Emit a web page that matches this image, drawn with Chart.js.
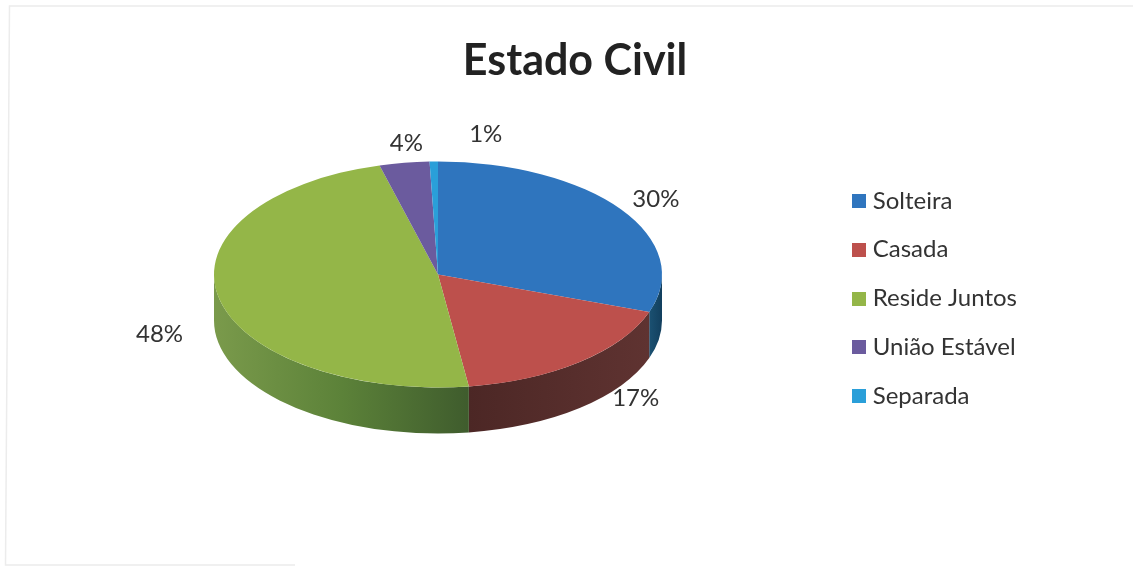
<!DOCTYPE html>
<html>
<head>
<meta charset="utf-8">
<title>Estado Civil</title>
<script src="https://cdn.jsdelivr.net/npm/chart.js@4"></script>
<style>
  html, body { margin: 0; padding: 0; background: #fff; }
  #wrap { position: relative; width: 1133px; height: 568px; }
  canvas { filter: blur(0.45px); }
</style>
</head>
<body>
<div id="wrap"><canvas id="pieChart"></canvas></div>
<script>
const categories = ["Solteira", "Casada", "Reside Juntos", "União Estável", "Separada"];
const values = [30.4, 17.4, 48.0, 3.6, 0.6];
const topColors = ["#2f75be", "#bd504c", "#94b648", "#6b5b9e", "#2a9fd9"];

/* side wall colours, left to right, per slice */
const sideColors = [
  ["#1b5172", "#123f5e"],
  ["#4c2725", "#5f3331"],
  ["#7a9a4b", "#5c8239", "#3f5c2d"],
  ["#4a3d70", "#4a3d70"],
  ["#1c6f98", "#1c6f98"]
];

/* where the percent labels sit relative to the rim of their slice */
const labelNudges = [[35, -10], [56, 36], [-59, 37], [2, -20], [52, -27]];

const PIE_X = 438, PIE_Y = 274.5, RX = 224, RY = 113, DEPTH = 46;

/* legend squares, as images so they can sit closer to the text than the default gap */
function swatch(color) {
  const s = document.createElement("canvas");
  s.width = 14;
  s.height = 14;
  const sc = s.getContext("2d");
  sc.fillStyle = color;
  sc.fillRect(0, 0, 14, 14);
  return s;
}

/* ===== 3D LOOK: squash the pie and draw a wall under it ===== */
const tiltPlugin = {
  id: "tilt",
  beforeDraw(chart) {
    const c = chart.ctx;
    c.save();
    c.strokeStyle = "#ececec";
    c.lineWidth = 1.5;
    c.beginPath();
    c.moveTo(1133, 6);
    c.lineTo(9.5, 6);
    c.lineTo(5.5, 565);
    c.lineTo(295, 565);
    c.stroke();
    c.restore();
  },
  beforeDatasetsDraw(chart) {
    const c = chart.ctx;
    const arcs = chart.getDatasetMeta(0).data;
    arcs.forEach((arc, i) => {
      // only the front half of the rim shows a wall
      const from = Math.max(arc.startAngle, 0);
      const to = Math.min(arc.endAngle, Math.PI);
      if (to <= from) return;
      const x0 = PIE_X + RX * Math.cos(to), x1 = PIE_X + RX * Math.cos(from);
      const grad = c.createLinearGradient(x0, 0, x1, 0);
      sideColors[i].forEach((col, k) => grad.addColorStop(k / (sideColors[i].length - 1), col));
      c.fillStyle = grad;
      c.beginPath();
      c.ellipse(PIE_X, PIE_Y, RX, RY, 0, from, to);
      c.ellipse(PIE_X, PIE_Y + DEPTH, RX, RY, 0, to, from, true);
      c.closePath();
      c.fill();
    });
    const first = arcs[0];
    c.save();
    c.translate(PIE_X, PIE_Y);
    c.scale(RX / first.outerRadius, RY / first.outerRadius);
    c.translate(-first.x, -first.y);
  },
  afterDatasetsDraw(chart) {
    const c = chart.ctx;
    c.restore();
    c.save();
    c.font = "24px Lato";
    c.fillStyle = "#333";
    c.textAlign = "center";
    c.textBaseline = "middle";
    chart.getDatasetMeta(0).data.forEach((arc, i) => {
      const mid = (arc.startAngle + arc.endAngle) / 2;
      const x = PIE_X + RX * Math.cos(mid) + labelNudges[i][0];
      const y = PIE_Y + RY * Math.sin(mid) + labelNudges[i][1];
      c.fillText(Math.round(values[i]) + "%", x, y);
    });
    c.restore();
  }
};

/* ===== PIE CHART ===== */
const ctx = document.getElementById("pieChart").getContext("2d");

const pieChart = new Chart(ctx, {
  type: "pie",
  data: {
    labels: categories,
    datasets: [{
      data: values,
      backgroundColor: topColors,
      borderWidth: 0
    }]
  },
  options: {
    responsive: true,
    maintainAspectRatio: false,
    animation: false,
    radius: RX,
    layout: { padding: { left: 123, right: 106, top: 29, bottom: 0 } },
    plugins: {
      title: {
        display: true,
        text: "Estado Civil",
        color: "#222",
        font: { family: "Lato", size: 43, weight: "bold" },
        padding: { top: 6, bottom: 6 }
      },
      legend: {
        position: "right",
        labels: {
          color: "#333",
          font: { family: "Lato", size: 24 },
          usePointStyle: true,
          pointStyleWidth: 3,
          boxHeight: 14,
          padding: 24.75,
          generateLabels(chart) {
            const items = Chart.overrides.pie.plugins.legend.labels.generateLabels(chart);
            items.forEach((item, i) => { item.pointStyle = swatch(topColors[i]); });
            return items;
          }
        }
      },
      tooltip: { enabled: false }
    }
  },
  plugins: [tiltPlugin]
});
</script>
</body>
</html>
